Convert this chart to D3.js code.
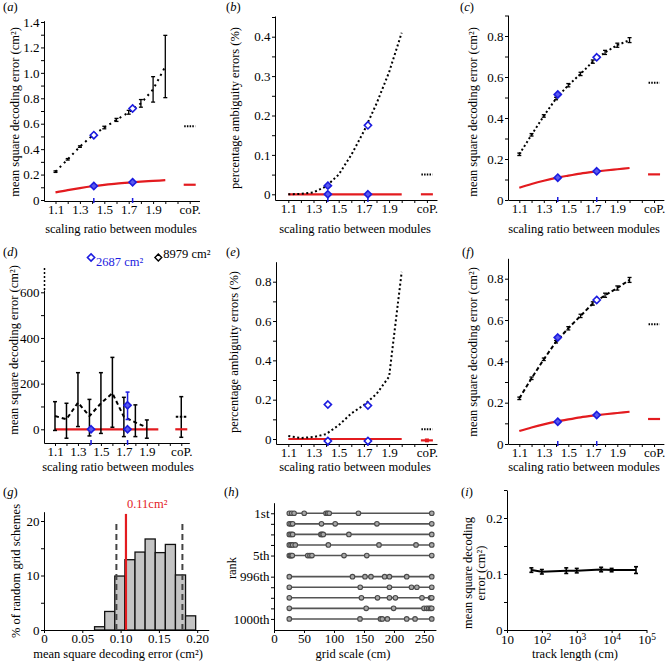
<!DOCTYPE html>
<html><head><meta charset="utf-8">
<script src="https://cdn.jsdelivr.net/npm/d3@7"></script>
<style>body{margin:0;background:#fff}svg{display:block}</style>
</head><body><svg id="c" width="667" height="661"></svg>
<script>
// ---------------- data ----------------
const ratios = [1.1,1.2,1.3,1.4,1.5,1.6,1.7,1.8,1.9,2.0];
const ratioTicks = [1.1,1.2,1.3,1.4,1.5,1.6,1.7,1.8,1.9,2.0,2.1,2.2];
const ratioTickLabels = ["1.1","","1.3","","1.5","","1.7","","1.9","","","coP."];
const blueRatios = [1.414,1.732];
const coPRatio = 2.2;

// (a)
const aBlack = [0.223,0.32,0.42,0.505,0.57,0.63,0.69,0.76,0.87,1.05];
const aBlackErr = [0.006,0.006,0.006,0.008,0.01,0.012,0.015,0.03,0.1,0.245];
const aRed = [0.06,0.078,0.094,0.108,0.119,0.129,0.137,0.144,0.150,0.156];
const aBlueUpper = [0.51,0.72];
const aBlueLower = [0.11,0.14];
const aCoP = [0.58,0.12];
// (b)
const bBlack = [0,0.001,0.005,0.02,0.05,0.1,0.16,0.23,0.31,0.41];
const bRed = [0,0,0,0,0,0,0,0,0,0];
const bBlueUpper = [0.022,0.175];
const bBlueLower = [0,0];
const bCoP = [0.05,0];
// (c)
const cBlack = [0.223,0.318,0.41,0.495,0.56,0.615,0.675,0.72,0.755,0.78];
const cBlackErr = [0.006,0.006,0.006,0.006,0.008,0.008,0.008,0.01,0.01,0.012];
const cRed = [0.06,0.078,0.094,0.108,0.119,0.129,0.137,0.144,0.150,0.156];
const cBlueUpper = [0.515,0.696];
const cBlueLower = [0.109,0.14];
const cCoP = [0.572,0.125];
// (d)
const dBlack = [58,44,117,58,114,158,55,30,8,null];
const dBlackLo = [-5,-39,12,-29,-18,9,-32,-32,-39,null];
const dBlackHi = [121,114,248,131,248,315,140,107,41,null];
const dRed = [0,0,0,0,0,0,0,0,0,0];
const dBlueMid = [null,105];
const dBlueLo = [null,43];
const dBlueHi = [null,163];
const dBlueLower = [0,0];
const dCoP = [55,0];
const dCoPLo = -35, dCoPHi = 143;
const dOutlierRatios = [1.414,2.0];
const dOutlierLabels = ["2687 cm\u00B2","8979 cm\u00B2"];
// (e)
const eBlack = [0.015,0.005,0.01,0.025,0.07,0.13,0.173,0.229,0.317,0.85];
const eRed = [0,0,0,0,0,0,0,0,0,0];
const eBlueUpper = [0.175,0.17];
const eBlueLower = [-0.01,-0.01];
const eCoP = [0.049,-0.007];
// (f)
const fBlack = [0.221,0.318,0.41,0.495,0.56,0.62,0.68,0.72,0.755,0.794];
const fBlackErr = [0.006,0.006,0.006,0.006,0.008,0.008,0.008,0.01,0.01,0.012];
const fRed = [0.063,0.08,0.095,0.108,0.119,0.129,0.137,0.144,0.150,0.156];
const fBlueUpper = [0.515,0.697];
const fBlueLower = [0.108,0.14];
const fCoP = [0.579,0.121];
// (g)
const gBinEdges = [0.066,0.0792,0.0924,0.1056,0.1188,0.132,0.1452,0.1584,0.1716,0.1848,0.198];
const gPercent = [0.6,3.4,9.9,12.9,14.3,16.7,14.2,15.7,10.1,2.6];
const gMean = 0.107;
const gBounds = [0.0945,0.1807];
const gXTicks = [0,0.05,0.10,0.15,0.20];
const gXTickLabels = ["0","0.05","0.10","0.15","0.20"];
// (h)
const hRankPos = [1,2,3,4,5,7,8,9,10,11];
const hRankLabels = ["1st","","","","5th","996th","","","","1000th"];
const hScales = [
  [24,28,32,49,85.6,88.3,91,140,263],
  [24,27,29.6,78,101,171,263],
  [24,27,29.6,77,79,81,124,263],
  [24,27,29.6,34,89.5,174.5,236.6,263],
  [24,25.7,27.4,29,55,58.7,62,115.8,154,263],
  [24,130,151,161,184,192,221,263],
  [24,143,192,229,238,263],
  [24,145,172,192,202,246.6,261,263],
  [24,153,199,250,254.5,258,261,263],
  [24,142.6,177,180,188.5,221,235,263]
];
// (i)
const iTrack = [50,100,500,1000,5000,10000,50000];
const iError = [0.107,0.104,0.106,0.106,0.108,0.107,0.107];
const iErrBar = [0.004,0.004,0.005,0.004,0.004,0.003,0.006];
const iXTicks = [10,100,1000,10000,100000];
const iXExp = ["","2","3","4","5"];

// ---------------- drawing ----------------
const FONT = '"Liberation Serif","Times New Roman",serif';
const FS = 13;      // tick labels
const TS = 12.5;    // titles / annotations
const RED = "#e31b1f", BLUE = "#1c1ce0";
const svg = d3.select("#c");
svg.append("rect").attr("width",667).attr("height",661).attr("fill","#fff");

function styleAxis(sel, fs){
  sel.attr("font-family",FONT).attr("font-size",fs||FS);
  sel.selectAll("path,line").attr("stroke","#000").attr("stroke-width",1);
  sel.selectAll("text").attr("fill","#000");
}
function panelLabel(x,y,letter){
  const t = svg.append("text").attr("x",x).attr("y",y).attr("font-family",FONT).attr("font-size",TS);
  t.append("tspan").text("(");
  t.append("tspan").attr("font-style","italic").text(letter);
  t.append("tspan").text(")");
}
function yTitle(x,y,lines,fs){
  const t = svg.append("text").attr("transform",`translate(${x},${y}) rotate(-90)`)
    .attr("text-anchor","middle").attr("dominant-baseline","central").attr("font-family",FONT).attr("font-size",fs||TS);
  lines.forEach((l,i)=>t.append("tspan").attr("x",0).attr("dy",i===0?0:"1.0em").text(l));
}
function xTitle(x,y,s){
  svg.append("text").attr("x",x).attr("y",y).attr("text-anchor","middle").attr("dominant-baseline","central")
    .attr("font-family",FONT).attr("font-size",TS).text(s);
}
function diamond(g,cx,cy,fill){
  const r=3.6;
  g.append("path").attr("d",`M${cx},${cy-r}L${cx+r},${cy}L${cx},${cy+r}L${cx-r},${cy}Z`)
    .attr("fill",fill).attr("stroke",BLUE).attr("stroke-width",1.6);
}
function errBar(g,x,y1,y2,color,w){
  g.append("line").attr("x1",x).attr("x2",x).attr("y1",y1).attr("y2",y2).attr("stroke",color).attr("stroke-width",w||1.3);
  [y1,y2].forEach(yy=>g.append("line").attr("x1",x-2).attr("x2",x+2).attr("y1",yy).attr("y2",yy).attr("stroke",color).attr("stroke-width",w||1.3));
}

function ratioPanel(o){
  const g = svg.append("g");
  const x = d3.scaleLinear().domain([1.1,2.0]).range([o.x11,o.x11+0.9*o.ppu]);
  const y = d3.scaleLinear().domain(o.yv).range(o.yp);
  const xa = d3.scaleLinear().domain([x.invert(o.left),o.xEnd]).range([o.left,x(o.xEnd)]);
  g.append("g").attr("transform",`translate(0,${o.axisY})`)
    .call(d3.axisBottom(xa).tickValues(ratioTicks).tickFormat((d,i)=>ratioTickLabels[i]).tickSize(3).tickSizeOuter(0).tickPadding(1))
    .call(styleAxis);
  const yTop = o.solidTop!==undefined ? o.solidTop : o.top;
  const ya = d3.scaleLinear().domain([y.invert(o.axisY),y.invert(yTop)]).range([o.axisY,yTop]);
  const allT = o.yTicks.concat(o.yMinor).sort((a,b)=>a-b);
  g.append("g").attr("transform",`translate(${o.left},0)`)
    .call(d3.axisLeft(ya).tickValues(allT).tickFormat(d=>o.yTicks.includes(d)?o.fmt(d):"").tickSize(3).tickSizeOuter(0).tickPadding(1.5))
    .call(styleAxis);
  if(o.solidTop!==undefined){
    g.append("line").attr("x1",o.left+0.5).attr("x2",o.left+0.5).attr("y1",o.solidTop).attr("y2",o.top)
      .attr("stroke","#000").attr("stroke-width",1.5).attr("stroke-dasharray","2,2");
  }
  g.append("path").datum(o.red).attr("fill","none").attr("stroke",RED).attr("stroke-width",2.2)
    .attr("d",d3.line().x((d,i)=>x(ratios[i])).y(d=>y(d)).curve(d3.curveMonotoneX));
  g.append("path").datum(o.black).attr("fill","none").attr("stroke","#000").attr("stroke-width",2)
    .attr("stroke-dasharray",o.dash)
    .attr("d",d3.line().defined(d=>d!==null).x((d,i)=>x(ratios[i])).y(d=>y(d)));
  if(o.blackErr){
    o.black.forEach((d,i)=>{ if(d!==null && o.blackErr[i]>0) errBar(g,x(ratios[i]),y(d-o.blackErr[i]),y(d+o.blackErr[i]),"#000"); });
  }
  if(o.blackLo){
    o.black.forEach((d,i)=>{ if(d!==null) errBar(g,x(ratios[i]),y(o.blackLo[i]),y(o.blackHi[i]),"#000",1.5); });
  }
  const cx = x(coPRatio);
  if(o.coPLo!==undefined) errBar(g,cx,y(o.coPLo),y(o.coPHi),"#000",1.5);
  g.append("line").attr("x1",cx-5.5).attr("x2",cx+5.5).attr("y1",y(o.coP[0])).attr("y2",y(o.coP[0]))
    .attr("stroke","#000").attr("stroke-width",2).attr("stroke-dasharray",o.coPDash||"1.5,1.2");
  if(o.coPRedErr) errBar(g,cx,y(o.coP[1]-o.coPRedErr),y(o.coP[1]+o.coPRedErr),RED,1.5);
  g.append("line").attr("x1",cx-6).attr("x2",cx+6).attr("y1",y(o.coP[1])).attr("y2",y(o.coP[1]))
    .attr("stroke",RED).attr("stroke-width",2.2);
  blueRatios.forEach((r,i)=>{
    const bx = x(r);
    if(o.blueTick){
      g.append("line").attr("x1",bx).attr("x2",bx).attr("y1",o.axisY-3).attr("y2",o.axisY+2).attr("stroke",BLUE).attr("stroke-width",1.5);
    }
    if(o.blueLower){
      const by = y(o.blueLower[i]);
      if(o.blueDrop) g.append("line").attr("x1",bx).attr("x2",bx).attr("y1",by).attr("y2",o.axisY+2).attr("stroke",BLUE).attr("stroke-width",1.5);
      diamond(g,bx,by,o.lowerFill||"#5a5aee");
    }
    if(o.blueMid && o.blueMid[i]!==null){
      errBar(g,bx,y(o.blueLo[i]),y(o.blueHi[i]),BLUE,1.5);
      diamond(g,bx,y(o.blueMid[i]),"#5a5aee");
    }
    if(o.blueUpper){
      diamond(g,bx,y(o.blueUpper[i]),o.upperFill?o.upperFill[i]:"#fff");
    }
  });
  return {x,y,g};
}

function fmt1(d){return d===0?"0":d.toFixed(1);}

// (a)
panelLabel(3,11,"a");
ratioPanel({left:44,x11:55.5,ppu:122,xEnd:2.28,yv:[0,1.4],yp:[200,22],axisY:201,top:20.7,
  yTicks:[0,0.2,0.4,0.6,0.8,1.0,1.2,1.4],yMinor:[0.1,0.3,0.5,0.7,0.9,1.1,1.3],fmt:fmt1,
  black:aBlack,blackErr:aBlackErr,red:aRed,dash:"2,4",coP:aCoP,
  blueUpper:aBlueUpper,upperFill:["#fff","#fff"],blueLower:aBlueLower,blueTick:true});
yTitle(15,112,["mean square decoding error (cm\u00B2)"]);
xTitle(121,229,"scaling ratio between modules");

// (b)
panelLabel(226,11,"b");
ratioPanel({left:275,x11:288.3,ppu:126,xEnd:2.28,yv:[0,0.4],yp:[194.3,36.7],axisY:200,top:16,
  yTicks:[0,0.1,0.2,0.3,0.4],yMinor:[0.05,0.15,0.25,0.35,0.45],fmt:fmt1,
  black:bBlack,red:bRed,dash:"2,2.5",coP:bCoP,
  blueUpper:bBlueUpper,upperFill:["#5a5aee","#fff"],blueLower:bBlueLower,blueDrop:true});
yTitle(235,108,["percentage ambiguity errors (%)"]);
xTitle(355,229,"scaling ratio between modules");

// (c)
panelLabel(460,11,"c");
ratioPanel({left:508,x11:519.3,ppu:122.5,xEnd:2.28,yv:[0,0.8],yp:[200,36],axisY:200,top:15,
  yTicks:[0,0.2,0.4,0.6,0.8],yMinor:[0.1,0.3,0.5,0.7,0.9],fmt:fmt1,
  black:cBlack,blackErr:cBlackErr,red:cRed,dash:"2,2.5",coP:cCoP,
  blueUpper:cBlueUpper,upperFill:["#5a5aee","#fff"],blueLower:cBlueLower,blueTick:true});
yTitle(473,112,["mean square decoding error (cm\u00B2)"]);
xTitle(584,229,"scaling ratio between modules");

// (d)
panelLabel(3,256,"d");
const dP = ratioPanel({left:44,x11:55,ppu:114.8,xEnd:2.27,yv:[0,600],yp:[429.3,292.3],axisY:443,solidTop:290,top:266.7,
  yTicks:[0,200,400,600],yMinor:[100,300,500],fmt:d=>String(d),
  black:dBlack,blackLo:dBlackLo,blackHi:dBlackHi,red:dRed,dash:"4,3",coP:dCoP,coPLo:dCoPLo,coPHi:dCoPHi,coPDash:"2.5,1.5",
  blueLower:dBlueLower,blueTick:true,blueMid:dBlueMid,blueLo:dBlueLo,blueHi:dBlueHi});
const dLabelY = [262,254];
dOutlierRatios.forEach((r,i)=>{
  const ox = dP.x(r), oy = 257.5;
  if(i===0) diamond(dP.g,ox,oy,"#fff");
  else dP.g.append("path").attr("d",`M${ox},${oy-3.4}L${ox+3.4},${oy}L${ox},${oy+3.4}L${ox-3.4},${oy}Z`).attr("fill","#fff").attr("stroke","#000").attr("stroke-width",1.4);
  dP.g.append("text").attr("x",ox+5).attr("y",dLabelY[i]).attr("dominant-baseline","central").attr("font-family",FONT).attr("font-size",TS)
    .attr("fill",i===0?BLUE:"#000").text(dOutlierLabels[i]);
});
yTitle(14,350,["mean square decoding error (cm\u00B2)"]);
xTitle(118,467,"scaling ratio between modules");

// (e)
panelLabel(226,256,"e");
ratioPanel({left:276,x11:288.3,ppu:126,xEnd:2.28,yv:[0,0.8],yp:[439,281.7],axisY:444,top:261.7,
  yTicks:[0,0.2,0.4,0.6,0.8],yMinor:[0.1,0.3,0.5,0.7],fmt:fmt1,
  black:eBlack,red:eRed,dash:"2,2.5",coP:eCoP,coPRedErr:0.006,
  blueUpper:eBlueUpper,upperFill:["#fff","#fff"],blueLower:eBlueLower,lowerFill:"#fff",blueDrop:true});
yTitle(234,352,["percentage ambiguity errors (%)"]);
xTitle(355,467,"scaling ratio between modules");

// (f)
panelLabel(462,256,"f");
ratioPanel({left:508,x11:519.3,ppu:122.5,xEnd:2.28,yv:[0,0.8],yp:[444,278.7],axisY:444,top:258.3,
  yTicks:[0,0.2,0.4,0.6,0.8],yMinor:[0.1,0.3,0.5,0.7],fmt:fmt1,
  black:fBlack,blackErr:fBlackErr,red:fRed,dash:"4,2.5",coP:fCoP,
  blueUpper:fBlueUpper,upperFill:["#5a5aee","#fff"],blueLower:fBlueLower,blueTick:true});
yTitle(473,352,["mean square decoding error (cm\u00B2)"]);
xTitle(584,467,"scaling ratio between modules");

// (g)
panelLabel(3,496,"g");
(function(){
  const g = svg.append("g");
  const x = d3.scaleLinear().domain([0,0.2]).range([44,197.2]);
  const y = d3.scaleLinear().domain([0,20]).range([630,521]);
  g.selectAll("rect.bar").data(gPercent).join("rect")
    .attr("x",(d,i)=>x(gBinEdges[i])).attr("width",(d,i)=>x(gBinEdges[i+1])-x(gBinEdges[i]))
    .attr("y",d=>y(d)).attr("height",d=>y(0)-y(d))
    .attr("fill","#c4c4c4").attr("stroke","#111").attr("stroke-width",1.3);
  const xa = d3.scaleLinear().domain([0,0.215]).range([44,x(0.215)]);
  g.append("g").attr("transform","translate(0,630)")
    .call(d3.axisBottom(xa).tickValues(gXTicks).tickFormat((d,i)=>gXTickLabels[i]).tickSize(3).tickSizeOuter(0).tickPadding(1))
    .call(styleAxis);
  const ya = d3.scaleLinear().domain([0,y.invert(511.7)]).range([630,511.7]);
  g.append("g").attr("transform","translate(44,0)")
    .call(d3.axisLeft(ya).tickValues([0,5,10,15,20]).tickFormat(d=>d%10===0?String(d):"").tickSize(3).tickSizeOuter(0).tickPadding(1.5))
    .call(styleAxis);
  gBounds.forEach(b=>g.append("line").attr("x1",x(b)).attr("x2",x(b)).attr("y1",y(0)).attr("y2",y(20))
    .attr("stroke","#444").attr("stroke-width",2).attr("stroke-dasharray","6,4"));
  g.append("line").attr("x1",x(gMean)).attr("x2",x(gMean)).attr("y1",y(0)).attr("y2",y(21.3))
    .attr("stroke",RED).attr("stroke-width",2.2);
  g.append("text").attr("x",x(gMean)+1).attr("y",504).attr("dominant-baseline","central").attr("font-family",FONT).attr("font-size",TS)
    .attr("fill",RED).text("0.11cm\u00B2");
})();
yTitle(16,571,["% of random grid schemes"]);
xTitle(118,654,"mean square decoding error (cm\u00B2)");

// (h)
panelLabel(224,496,"h");
(function(){
  const g = svg.append("g");
  const x = d3.scaleLinear().domain([0,250]).range([275,424]);
  const y = d3.scaleLinear().domain([0,12]).range([502.7,629.5]);
  const xa = d3.scaleLinear().domain([0,270]).range([274,x(270)]);
  g.append("g").attr("transform","translate(0,630)")
    .call(d3.axisBottom(xa).tickValues([0,50,100,150,200,250]).tickSize(3).tickSizeOuter(0).tickPadding(1))
    .call(styleAxis);
  g.append("g").attr("transform","translate(274,0)")
    .call(d3.axisLeft(y).tickValues(hRankPos).tickFormat((d,i)=>hRankLabels[i]).tickSize(3).tickSizeOuter(0).tickPadding(1.5))
    .call(styleAxis);
  hScales.forEach((row,i)=>{
    const yy = y(hRankPos[i]);
    g.append("line").attr("x1",x(d3.min(row))).attr("x2",x(d3.max(row))).attr("y1",yy).attr("y2",yy)
      .attr("stroke","#555").attr("stroke-width",1.6);
    g.selectAll(null).data(row).join("circle").attr("cx",d=>x(d)).attr("cy",yy).attr("r",2.3)
      .attr("fill","#a8a8a8").attr("stroke","#4a4a4a").attr("stroke-width",1.1);
  });
})();
yTitle(232,568,["rank"]);
xTitle(353,654,"grid scale (cm)");

// (i)
panelLabel(461,496,"i");
(function(){
  const g = svg.append("g");
  const x = d3.scaleLog().domain([10,100000]).range([507,646.5]);
  const y = d3.scaleLinear().domain([0,0.25]).range([630,490]);
  const ax = g.append("g").attr("transform","translate(0,630)")
    .call(d3.axisBottom(x).tickValues(iXTicks).tickFormat(()=> "10").tickSize(3).tickSizeOuter(0).tickPadding(2))
    .call(styleAxis);
  ax.selectAll(".tick text").each(function(d,i){
    if(iXExp[i]) d3.select(this).append("tspan").attr("dy","-0.45em").attr("font-size",9.5).text(iXExp[i]);
  });
  g.append("g").attr("transform","translate(507,0)")
    .call(d3.axisLeft(y).tickValues([0,0.05,0.1,0.15,0.2,0.25]).tickFormat(d=>[0,0.1,0.2].includes(d)?(d===0?"0":d.toFixed(1)):"").tickSize(3).tickSizeOuter(0).tickPadding(1.5))
    .call(styleAxis);
  g.append("path").datum(iError).attr("fill","none").attr("stroke","#000").attr("stroke-width",2)
    .attr("d",d3.line().x((d,i)=>x(iTrack[i])).y(d=>y(d)));
  iError.forEach((d,i)=>errBar(g,x(iTrack[i]),y(d-iErrBar[i]),y(d+iErrBar[i]),"#000",1.6));
})();
yTitle(468,573,["mean square decoding","error (cm\u00B2)"]);
xTitle(575,654,"track length (cm)");
</script></body></html>
